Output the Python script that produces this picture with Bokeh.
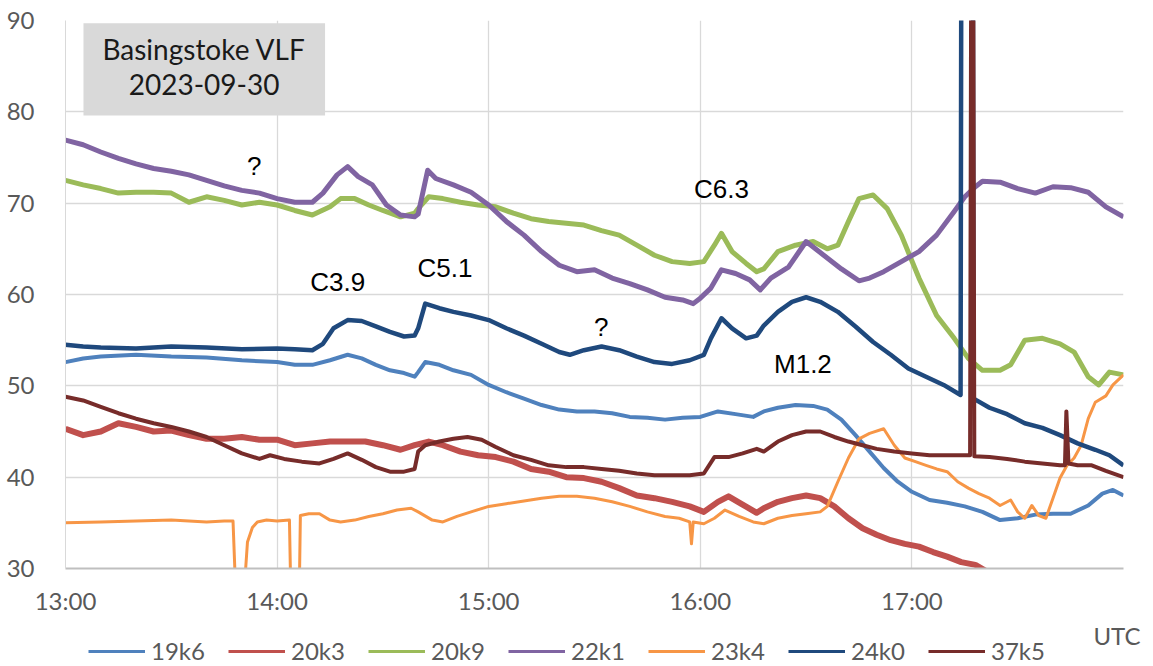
from bokeh.plotting import figure
from bokeh.models import Legend, LegendItem, Label, FixedTicker, Range1d
from bokeh.embed import file_html
from bokeh.resources import INLINE

# ---- axis ticks (minutes after 13:00 UTC) ----
x_ticks = [0, 60, 120, 180, 240]
x_tick_labels = ["13:00", "14:00", "15:00", "16:00", "17:00"]
y_ticks = [30, 40, 50, 60, 70, 80, 90]

series_names = ["19k6", "20k3", "20k9", "22k1", "23k4", "24k0", "37k5"]

# ---- series (time in minutes after 13:00, signal in dB) ----
t_19k6 = [0, 5, 10, 20, 30, 40, 50, 60, 65, 70, 75, 80, 84, 88, 92, 96, 99, 100, 102, 106,
          110, 115, 120, 125, 130, 135, 140, 145, 150, 155, 160, 165, 170, 175, 180, 185, 190, 195,
          198, 202, 207, 212, 216, 220, 224, 228, 232, 236, 240, 245, 250, 255, 260, 265, 270, 275,
          280, 285, 290, 294, 297, 300]
v_19k6 = [52.6, 53.0, 53.2, 53.4, 53.2, 53.1, 52.8, 52.6, 52.3, 52.3, 52.8, 53.4, 53.0, 52.3, 51.7, 51.4, 51.0, 51.5, 52.6, 52.3,
          51.7, 51.2, 50.1, 49.3, 48.6, 47.9, 47.4, 47.2, 47.2, 47.0, 46.6, 46.5, 46.3, 46.5, 46.6, 47.2, 46.9, 46.6,
          47.2, 47.6, 47.9, 47.8, 47.4, 46.3, 44.6, 42.8, 41.0, 39.5, 38.4, 37.5, 37.2, 36.8, 36.2, 35.3, 35.5, 35.9,
          36.0, 36.0, 36.9, 38.2, 38.6, 38.0]

t_20k3 = [0, 5, 10, 15, 20, 25, 30, 35, 40, 45, 50, 55, 60, 65, 70, 75, 80, 85, 90, 95,
          99, 103, 107, 112, 117, 122, 127, 132, 137, 142, 147, 152, 157, 162, 167, 172, 177, 181, 185, 188,
          192, 196, 198, 202, 206, 210, 214, 218, 222, 226, 230, 234, 238, 242, 246, 250, 254, 258, 262]
v_20k3 = [45.3, 44.6, 45.0, 45.9, 45.5, 45.0, 45.1, 44.6, 44.2, 44.2, 44.4, 44.1, 44.1, 43.5, 43.7, 43.9, 43.9, 43.9, 43.5, 43.0,
          43.5, 43.9, 43.5, 42.8, 42.4, 42.2, 41.7, 40.9, 40.6, 40.0, 39.9, 39.5, 38.8, 38.0, 37.7, 37.3, 36.8, 36.2, 37.3, 37.9,
          37.0, 36.1, 36.6, 37.3, 37.7, 38.0, 37.7, 36.8, 35.5, 34.4, 33.7, 33.1, 32.7, 32.4, 31.8, 31.3, 30.7, 30.4, 29.5]

t_20k9 = [0, 5, 10, 15, 20, 25, 30, 35, 40, 45, 50, 55, 60, 65, 70, 75, 78, 82, 86, 90,
          95, 99, 100, 103, 107, 112, 117, 122, 127, 132, 137, 142, 147, 152, 157, 162, 167, 172, 177, 181,
          184, 186, 189, 193, 196, 198, 202, 207, 212, 216, 219, 222, 225, 229, 233, 237, 242, 247, 252, 256,
          260, 265, 268, 272, 277, 282, 286, 290, 293, 296, 300]
v_20k9 = [72.5, 72.0, 71.6, 71.1, 71.2, 71.2, 71.1, 70.1, 70.7, 70.3, 69.8, 70.1, 69.8, 69.2, 68.7, 69.6, 70.5, 70.5, 69.8, 69.2,
          68.5, 68.9, 69.4, 70.7, 70.5, 70.1, 69.8, 69.6, 68.9, 68.3, 68.0, 67.8, 67.6, 67.0, 66.5, 65.4, 64.3, 63.6, 63.4, 63.6,
          65.4, 66.7, 64.7, 63.4, 62.5, 62.8, 64.7, 65.4, 65.8, 65.0, 65.4, 68.0, 70.5, 70.9, 69.4, 66.5, 61.8, 57.7, 55.2, 53.0,
          51.7, 51.7, 52.3, 55.0, 55.2, 54.6, 53.7, 51.0, 50.1, 51.5, 51.2]

t_22k1 = [0, 5, 10, 15, 20, 25, 30, 35, 40, 45, 50, 55, 60, 65, 70, 73, 77, 80, 83, 87,
          91, 95, 99, 100, 102.7, 105, 110, 115, 120, 125, 130, 135, 140, 145, 150, 155, 160, 165, 170, 175,
          178, 180, 183, 186, 190, 194, 197, 200, 205, 210, 215, 220, 225, 228, 232, 237, 242, 247, 252, 255,
          258, 260, 265, 270, 275, 280, 285, 290, 295, 300]
v_22k1 = [76.9, 76.4, 75.6, 74.9, 74.3, 73.8, 73.5, 73.1, 72.5, 71.9, 71.4, 71.1, 70.5, 70.1, 70.1, 71.1, 73.1, 74.0, 72.9, 72.0,
          69.8, 68.7, 68.5, 68.8, 73.6, 72.7, 72.0, 71.2, 69.8, 68.0, 66.5, 64.7, 63.2, 62.5, 62.7, 61.8, 61.2, 60.5, 59.7, 59.4,
          59.0, 59.6, 60.7, 62.7, 62.3, 61.6, 60.5, 61.8, 63.0, 65.8, 64.3, 62.8, 61.5, 61.8, 62.5, 63.6, 64.7, 66.5, 69.1, 70.7,
          71.8, 72.4, 72.3, 71.6, 71.1, 71.8, 71.7, 71.2, 69.6, 68.5]

t_23k4 = [0, 10, 20, 30, 40, 45, 47.5, 48.5, 50.2, 51.6, 53.0, 54.4, 57, 60, 63.5, 64, 66.2, 66.6, 69, 72,
          75, 78, 82, 86, 90, 94, 98, 100, 104, 107, 111, 115, 120, 125, 130, 135, 140, 145, 150, 155,
          160, 165, 170, 174, 177, 177.5, 178, 181, 184, 187, 191, 195, 198, 202, 206, 210, 214, 216, 219, 222,
          225, 228, 232, 235, 238, 241, 244, 247, 250, 253, 256, 259, 262, 265, 268, 270, 272, 274, 276, 278,
          280, 282, 284, 286, 288, 290, 292, 295, 297, 300]
v_23k4 = [35.0, 35.1, 35.2, 35.3, 35.1, 35.2, 35.2, 25.0, 25.0, 32.9, 34.5, 35.1, 35.3, 35.2, 35.3, 25.0, 25.0, 35.8, 36.0, 36.0,
          35.3, 35.1, 35.3, 35.7, 36.0, 36.4, 36.6, 36.2, 35.3, 35.1, 35.7, 36.2, 36.8, 37.1, 37.4, 37.7, 37.9, 37.9, 37.7, 37.3,
          36.8, 36.2, 35.7, 35.5, 35.1, 32.7, 35.1, 34.9, 35.5, 36.4, 35.7, 35.1, 34.9, 35.5, 35.8, 36.0, 36.2, 36.8, 39.5, 42.1,
          44.2, 44.8, 45.3, 43.5, 42.1, 41.7, 41.3, 40.9, 40.6, 39.5, 38.8, 38.2, 37.7, 36.9, 37.5, 36.2, 35.5, 36.9, 35.8, 35.5,
          37.7, 39.9, 41.3, 42.1, 43.5, 46.4, 48.2, 48.9, 50.1, 51.2]

t_24k0 = [0, 5, 10, 20, 30, 40, 50, 60, 65, 70, 73, 76, 80, 84, 88, 92, 96, 99, 100, 102,
          106, 110, 115, 120, 125, 130, 135, 140, 143, 147, 152, 157, 162, 167, 172, 177, 181, 183, 186, 189,
          193, 196, 198, 202, 206, 210, 214, 219, 224, 229, 234, 239, 244, 249, 253.8, 254.0, 257.3, 257.5, 262, 267,
          272, 277, 282, 287, 292, 296, 300]
v_24k0 = [54.5, 54.3, 54.2, 54.1, 54.3, 54.2, 54.0, 54.1, 54.0, 53.9, 54.6, 56.3, 57.2, 57.1, 56.5, 55.9, 55.4, 55.5, 56.3, 59.0,
          58.5, 58.1, 57.7, 57.2, 56.3, 55.5, 54.6, 53.7, 53.4, 53.9, 54.3, 53.9, 53.2, 52.6, 52.4, 52.8, 53.4, 55.2, 57.4, 56.3,
          55.2, 55.5, 56.6, 58.1, 59.2, 59.7, 59.2, 58.1, 56.5, 54.8, 53.4, 51.9, 51.0, 50.1, 49.0, 95.0, 95.0, 48.6, 47.6, 46.9,
          45.9, 45.4, 44.6, 43.7, 43.0, 42.4, 41.3]

t_37k5 = [0, 5, 10, 15, 20, 25, 30, 35, 40, 45, 50, 55, 58, 62, 67, 72, 76, 80, 84, 88,
          92, 96, 99, 100, 102, 106, 110, 114, 118, 122, 127, 132, 137, 142, 147, 152, 157, 162, 167, 172,
          177, 181, 184, 188, 192, 196, 198, 202, 206, 210, 214, 218, 222, 226, 230, 235, 240, 245, 250, 255,
          256.5, 256.8, 257.4, 257.7, 262, 267, 272, 277, 282, 283.4, 283.8, 284.4, 287, 291, 295, 300]
v_37k5 = [48.8, 48.4, 47.7, 47.0, 46.4, 45.9, 45.5, 45.0, 44.4, 43.5, 42.6, 42.0, 42.4, 42.0, 41.7, 41.5, 42.0, 42.6, 41.9, 41.1,
          40.6, 40.6, 40.9, 42.8, 43.5, 43.9, 44.2, 44.4, 44.1, 43.3, 42.4, 41.9, 41.3, 41.1, 41.1, 40.9, 40.7, 40.4, 40.2, 40.2,
          40.2, 40.4, 42.2, 42.2, 42.6, 43.1, 42.8, 43.9, 44.6, 45.0, 45.0, 44.4, 43.9, 43.5, 43.1, 42.8, 42.6, 42.4, 42.4, 42.4,
          42.4, 95.0, 95.0, 42.3, 42.2, 42.0, 41.7, 41.5, 41.3, 41.3, 47.2, 41.5, 41.3, 41.3, 40.7, 40.0]

# ---- annotations (text, minute, level) ----
note_texts = ["?", "C3.9", "C5.1", "?", "C6.3", "M1.2"]
note_x = [53.5, 77.2, 107.6, 151.9, 186.0, 209.1]
note_y = [74.1, 61.4, 62.9, 56.4, 71.5, 52.4]

title_lines = ["Basingstoke VLF", "2023-09-30"]

colors = {"19k6": "#4F81BD", "20k3": "#C0504D", "20k9": "#9BBB59", "22k1": "#8064A2",
          "23k4": "#F79646", "24k0": "#1F497D", "37k5": "#772C2A"}
widths = {"19k6": 4, "20k3": 6, "20k9": 5, "22k1": 5, "23k4": 3, "24k0": 4.5, "37k5": 4}

data = {"19k6": (t_19k6, v_19k6), "20k3": (t_20k3, v_20k3), "20k9": (t_20k9, v_20k9),
        "22k1": (t_22k1, v_22k1), "23k4": (t_23k4, v_23k4), "24k0": (t_24k0, v_24k0),
        "37k5": (t_37k5, v_37k5)}

W = 1153
TOP_H = 620
p = figure(width=W, height=TOP_H, output_backend="svg", toolbar_location=None,
           x_range=Range1d(0, 300), y_range=Range1d(30, 90))
p.min_border_left = 65
p.min_border_right = 30
p.min_border_top = 20
p.min_border_bottom = TOP_H - 568
p.outline_line_color = None
p.background_fill_color = "white"
p.border_fill_color = "white"

GRID = "#d9d9d9"
p.xaxis.ticker = FixedTicker(ticks=x_ticks)
p.xaxis.major_label_overrides = {t: l for t, l in zip(x_ticks, x_tick_labels)}
p.yaxis.ticker = FixedTicker(ticks=y_ticks)
p.xgrid.ticker = FixedTicker(ticks=x_ticks)
p.ygrid.ticker = FixedTicker(ticks=y_ticks)
p.xgrid.grid_line_color = GRID
p.ygrid.grid_line_color = GRID
p.xgrid.grid_line_width = 1.3
p.ygrid.grid_line_width = 1.3
for ax in (p.xaxis, p.yaxis):
    ax.major_tick_line_color = None
    ax.minor_tick_line_color = None
    ax.major_label_text_font = "Lato"
    ax.major_label_text_font_size = "24px"
    ax.major_label_text_color = "#595959"
p.xaxis.axis_line_color = "#bfbfbf"
p.xaxis.axis_line_width = 2
p.yaxis.axis_line_color = GRID
p.xaxis.major_label_standoff = 11
p.yaxis.major_label_standoff = 25

# title box
p.quad(left=5.1, right=73.6, bottom=79.6, top=89.7, fill_color="#d9d9d9", line_color=None)
for txt, yy in zip(title_lines, [86.9, 83.0]):
    p.add_layout(Label(x=39.3, y=yy, text=txt, text_font="Lato", text_font_size="28px",
                       text_color="#1a1a1a", text_align="center", text_baseline="middle"))

for name in series_names:
    t, v = data[name]
    p.line(t, v, line_color=colors[name], line_width=widths[name], line_join="round")

for txt, xx, yy in zip(note_texts, note_x, note_y):
    p.add_layout(Label(x=xx, y=yy, text=txt, text_font="Liberation Sans", text_font_size="26px",
                       text_color="black", text_align="center", text_baseline="middle"))

# ---- bottom strip: legend + "UTC" (coordinates = page pixels) ----
p2 = figure(width=W, height=666 - TOP_H, output_backend="svg", toolbar_location=None,
            x_range=Range1d(0, W), y_range=Range1d(666, TOP_H),
            x_axis_type=None, y_axis_type=None)
p2.min_border_left = 0
p2.min_border_right = 0
p2.min_border_top = 0
p2.min_border_bottom = 0
p2.outline_line_color = None
p2.xgrid.visible = False
p2.ygrid.visible = False
p2.background_fill_color = "white"
p2.border_fill_color = "white"

items = []
for name in series_names:
    # legend key line (a single off-screen point so the legend has a style to draw)
    r = p2.line(x=[-50.0], y=[700.0], line_color=colors[name], line_width=3)
    items.append(LegendItem(label=name, renderers=[r]))

legend = Legend(items=items, orientation="horizontal", location=(88, 1))
legend.glyph_width = 57
legend.glyph_height = 20
legend.label_standoff = 6
legend.label_width = 77
legend.label_height = 20
legend.spacing = 0
legend.padding = 0
legend.margin = 0
legend.border_line_color = None
legend.background_fill_alpha = 0
legend.label_text_font = "Lato"
legend.label_text_font_size = "24px"
legend.label_text_color = "#595959"
p2.add_layout(legend)

p2.add_layout(Label(x=1140, y=635, text="UTC", text_font="Lato", text_font_size="24px",
                    text_color="#595959", text_align="right", text_baseline="middle"))

open("out.html", "w").write(file_html([p, p2], INLINE))
